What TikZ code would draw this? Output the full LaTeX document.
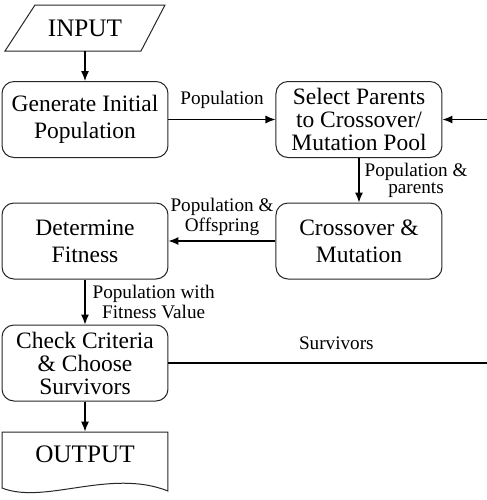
\documentclass[tikz,border=0pt]{standalone}
\usepackage{fontspec}
\setmainfont{Liberation Serif}
\usetikzlibrary{arrows.meta}
\begin{document}
\begin{tikzpicture}[x=0.5pt,y=-0.5pt,
  box/.style={draw=black!85, line width=0.5pt, rounded corners=6pt, minimum width=83pt, minimum height=38pt, align=center, inner sep=0pt, font=\fontsize{11.75}{13.5}\selectfont},
  box3/.style={box, font=\fontsize{11.75}{11.5}\selectfont},
  lbl/.style={font=\fontsize{9.6}{8.5}\selectfont, align=center, inner sep=0pt},
  big/.style={font=\fontsize{12.6}{14}\selectfont, inner sep=0pt, minimum width=83pt},
  arr/.style={-{Latex[length=5pt,width=4pt]}, line width=0.6pt},
  ln/.style={line width=0.6pt},
  outl/.style={draw=black!85, line width=0.5pt}]
\useasboundingbox (0,0) rectangle (487,500);
% input
\node[big, minimum height=23pt] (input) at (85,28) {INPUT};
\draw[outl] (35,5) -- (165,5) -- (141,51) -- (5,51) -- cycle;
% boxes
\node[box] (gen) at (85,119.5) {Generate Initial\\Population};
\node[box3] (sel) at (359,119.5) {Select Parents\\to Crossover/\\Mutation Pool};
\node[box] (cross) at (359,241) {Crossover \&\\Mutation};
\node[box] (fit) at (85,241) {Determine\\Fitness};
\node[box3] (check) at (85,363) {Check Criteria\\\& Choose\\Survivors};
% output
\node[big, minimum height=22pt] (output) at (85,454) {OUTPUT};
\draw[outl] (2,432) -- (168,432) -- (168,491) .. controls (110,468) and (45,505) .. (2,488) -- cycle;
% connectors
\coordinate (r1) at (487,363);
\coordinate (r2) at (487,119.5);
\draw[arr] (input) -- (gen);
\draw[arr] (gen) -- node[lbl, above=5pt]{Population} (sel);
\draw[arr] (sel) -- node[lbl, right=2.5pt]{Population \&\\parents} (cross);
\draw[arr] (cross) -- node[lbl, above=2.5pt]{Population \&\\Offspring} (fit);
\draw[arr] (fit) -- node[lbl, right=3.5pt]{Population with\\Fitness Value} (check);
\draw[arr] (check) -- (output);
\draw[ln] (check) -- node[lbl, above=6.5pt, pos=0.527]{Survivors} (r1);
\draw[arr] (r2) -- (sel);
\end{tikzpicture}
\end{document}
